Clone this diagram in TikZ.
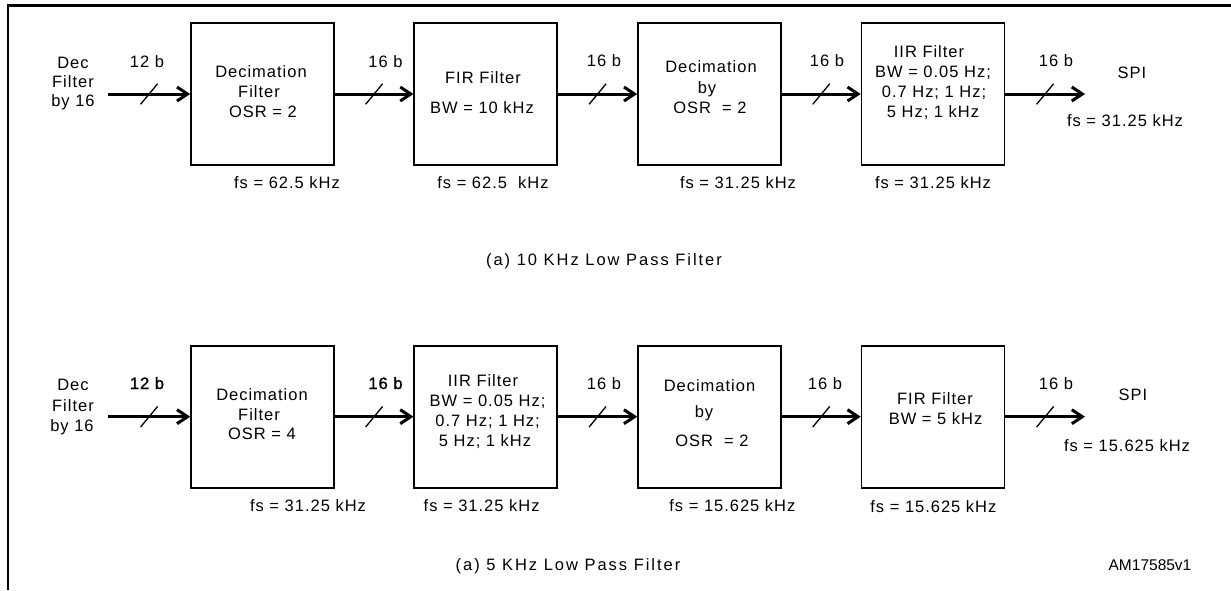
\documentclass[tikz,border=0pt]{standalone}
\usepackage{fontspec}
\setmainfont{Liberation Sans}
\newfontfamily\trkfont{Liberation Sans}[LetterSpace=6]
\newfontfamily\trkboldfont{Liberation Sans}[LetterSpace=6,FakeBold=1.2]
\newfontfamily\trkcapfont{Liberation Sans}[LetterSpace=12]
\usetikzlibrary{arrows.meta,decorations.markings}
\tikzset{
  txt/.style={font=\trkfont\fontsize{16.5}{20}\selectfont, inner sep=0pt, anchor=base},
  heavytxt/.style={txt, font=\trkboldfont\fontsize{16.5}{20}\selectfont},
  captxt/.style={txt, font=\trkcapfont\fontsize{16.5}{20}\selectfont},
  idtxt/.style={txt, font=\fontsize{15.5}{18}\selectfont},
  blockbox/.style={draw, line width=1.6pt, minimum width=143pt, minimum height=142pt, inner sep=0pt},
  busarrow/.style={line width=3pt, -{Straight Barb[length=10.5pt,width=14pt]},
    postaction={decorate, decoration={markings, mark=at position 0.5 with {\draw[line width=1.3pt,-] (-8.5pt,-10.3pt) -- (8.5pt,10.3pt);}}}},
  frameline/.style={line width=2.3pt},
}
\begin{document}
\begin{tikzpicture}[x=1pt,y=-1pt]
\useasboundingbox (0,0) rectangle (1231,590);
% frame
\draw[frameline] (8.3,590) -- (8.3,5.6) -- (1231,5.6);

% ---------------- top chain ----------------
\node[blockbox] (tA) at (262.5,94) {};
\node[blockbox] (tB) at (485.75,94) {};
\node[blockbox] (tC) at (709.5,94) {};
\node[blockbox] (tD) at (933,94) {};
\coordinate (tIn) at (108,94);
\coordinate (tOut) at (1085,94);
\draw[busarrow] (tIn) -- (tA);
\draw[busarrow] (tA) -- (tB);
\draw[busarrow] (tB) -- (tC);
\draw[busarrow] (tC) -- (tD);
\draw[busarrow] (tD) -- (tOut);

\node[txt] (tdec1) at (73,68) {Dec};
\node[txt] (tdec2) at (73,87) {Filter};
\node[txt] (tdec3) at (73,106) {by 16};

\node[txt] (tb1) at (147,67) {12 b};
\node[txt] (tb2) at (385.5,67) {16 b};
\node[txt] (tb3) at (604,66) {16 b};
\node[txt] (tb4) at (827,66) {16 b};
\node[txt] (tb5) at (1056,66) {16 b};

\node[txt] (tA1) at (261,77) {Decimation};
\node[txt] (tA2) at (259,97) {Filter};
\node[txt] (tA3) at (263,117) {OSR = 2};

\node[txt] (tB1) at (483,83) {FIR Filter};
\node[txt] (tB2) at (482,113) {BW = 10 kHz};

\node[txt] (tC1) at (711,72.5) {Decimation};
\node[txt] (tC2) at (707,93) {by};
\node[txt] (tC3) at (710,113) {OSR\ \ = 2};

\node[txt] (tD1) at (929,57) {IIR Filter};
\node[txt] (tD2) at (933,77) {BW = 0.05 Hz;};
\node[txt] (tD3) at (934,97) {0.7 Hz; 1 Hz;};
\node[txt] (tD4) at (933,117) {5 Hz; 1 kHz};

\node[txt] (tspi) at (1132,78) {SPI};
\node[txt] (tfso) at (1125,126) {fs = 31.25 kHz};

\node[txt] (tfsA) at (287,188) {fs = 62.5 kHz};
\node[txt] (tfsB) at (493,188) {fs = 62.5\ \ kHz};
\node[txt] (tfsC) at (738,188) {fs = 31.25 kHz};
\node[txt] (tfsD) at (933,188) {fs = 31.25 kHz};

\node[captxt] (tcap) at (604,265) {(a) 10 KHz Low Pass Filter};

% ---------------- bottom chain ----------------
\node[blockbox] (bA) at (262.5,416.7) {};
\node[blockbox] (bB) at (485.75,416.7) {};
\node[blockbox] (bC) at (709.5,416.7) {};
\node[blockbox] (bD) at (933,416.7) {};
\coordinate (bIn) at (108,416.7);
\coordinate (bOut) at (1085,416.7);
\draw[busarrow] (bIn) -- (bA);
\draw[busarrow] (bA) -- (bB);
\draw[busarrow] (bB) -- (bC);
\draw[busarrow] (bC) -- (bD);
\draw[busarrow] (bD) -- (bOut);

\node[txt] (bdec1) at (73,390.5) {Dec};
\node[txt] (bdec2) at (73,411) {Filter};
\node[txt] (bdec3) at (72,431) {by 16};

\node[heavytxt] (bb1) at (147,389) {12 b};
\node[heavytxt] (bb2) at (385.5,389) {16 b};
\node[txt] (bb3) at (604,389) {16 b};
\node[txt] (bb4) at (825,389) {16 b};
\node[txt] (bb5) at (1056,389) {16 b};

\node[txt] (bA1) at (262,400) {Decimation};
\node[txt] (bA2) at (259,420) {Filter};
\node[txt] (bA3) at (262,439) {OSR = 4};

\node[txt] (bB1) at (483,386) {IIR Filter};
\node[txt] (bB2) at (487.6,406.7) {BW = 0.05 Hz;};
\node[txt] (bB3) at (487.6,426.7) {0.7 Hz; 1 Hz;};
\node[txt] (bB4) at (485,446.7) {5 Hz; 1 kHz};

\node[txt] (bC1) at (709.5,391.7) {Decimation};
\node[txt] (bC2) at (704,417) {by};
\node[txt] (bC3) at (712,446) {OSR\ \ = 2};

\node[txt] (bD1) at (935,404) {FIR Filter};
\node[txt] (bD2) at (935.6,424) {BW = 5 kHz};

\node[txt] (bspi) at (1133,400.7) {SPI};
\node[txt] (bfso) at (1127,451.7) {fs = 15.625 kHz};

\node[txt] (bfsA) at (308,511.7) {fs = 31.25 kHz};
\node[txt] (bfsB) at (481.6,511.7) {fs = 31.25 kHz};
\node[txt] (bfsC) at (732.4,511.7) {fs = 15.625 kHz};
\node[txt] (bfsD) at (933.4,512.7) {fs = 15.625 kHz};

\node[captxt] (bcap) at (568,570) {(a) 5 KHz Low Pass Filter};
\node[idtxt] (amid) at (1150,570.7) {AM17585v1};
\end{tikzpicture}
\end{document}
